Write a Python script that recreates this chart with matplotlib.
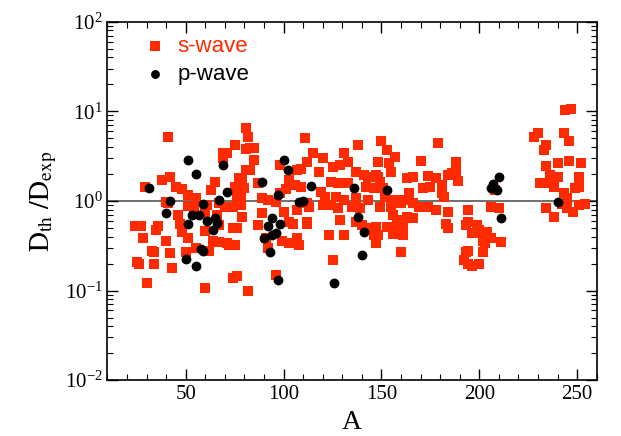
import matplotlib
matplotlib.use("Agg")
import matplotlib.pyplot as plt
from matplotlib.ticker import MultipleLocator, LogLocator

# s-wave resonances: mass number A and D_th / D_exp
s_A = [24, 27, 36, 35, 28, 40, 33, 34, 42, 25, 26, 34, 43, 30, 29, 41, 38, 42, 40, 41,
       45, 48, 51, 55, 51, 54, 46, 47, 48, 51, 60, 64, 67, 71, 72, 74, 79, 55, 62, 50,
       60, 74, 65, 63, 69, 71, 69, 75, 81, 81, 82, 77, 81, 80, 76, 78, 70, 74, 67, 61,
       60, 66, 67, 82,
       83, 85, 85, 83, 79, 75, 78, 77, 87, 111, 109, 107, 112, 103, 106, 109, 101, 98, 89, 92,
       96, 112, 100, 107, 89, 87, 103, 105, 112, 76, 99, 103, 107, 108, 75, 96, 76, 91, 92, 98,
       138, 150, 115, 120, 131, 125, 129, 133, 118, 137, 141, 143, 148, 148, 124, 128, 133, 142, 146, 119,
       121, 127, 131, 137, 143, 113, 120, 124, 128, 135, 139, 112, 129, 137, 140, 144, 146, 147, 123, 131,
       125,
       153, 157, 179, 154, 155, 170, 147, 149, 151, 166, 174, 178, 184, 164, 161, 171, 175, 181, 182, 152,
       156, 149, 155, 160, 166, 169, 174, 178, 184, 156, 158, 163, 166, 183, 184, 153, 157, 161, 147, 148,
       156, 161, 160, 163, 188, 188, 189, 186, 181, 181,
       194, 194, 193, 199, 198, 200, 196, 204, 206, 202, 211, 202, 203, 193, 202, 194, 192, 194, 196, 200,
       206, 210, 208,
       244, 247, 230, 228, 243, 246, 234, 233, 234, 240, 246, 252, 236, 240, 231, 235, 251, 238, 249, 251,
       243, 245, 242, 234, 238, 248, 251, 254, 245]
s_ratio = [0.52, 0.52, 0.52, 0.47, 0.39, 0.36, 0.28, 0.27, 0.26, 0.21, 0.20, 0.20, 0.18, 0.12, 1.42, 5.2, 1.7, 1.85, 0.97, 0.94,
           1.42, 1.35, 1.16, 1.07, 0.87, 0.85, 0.69, 0.56, 0.45, 0.39, 0.46, 0.36, 0.35, 0.34, 0.32, 0.50, 0.66, 0.30, 0.28, 0.27,
           0.106, 0.14, 1.62, 1.32, 3.4, 3.4, 3.0, 4.2, 3.8, 6.5, 5.2, 1.8, 2.2, 1.4, 1.1, 0.90, 0.85, 0.85, 0.94, 0.90,
           0.73, 0.69, 0.54, 0.098,
           3.95, 3.9, 2.85, 2.2, 1.8, 1.42, 1.16, 0.97, 1.58, 5.0, 2.3, 2.2, 2.7, 1.7, 1.5, 1.42, 1.35, 1.22, 1.07, 1.02,
           0.97, 0.94, 0.75, 0.79, 0.73, 0.54, 0.58, 0.56, 0.56, 0.50, 0.36, 0.34, 0.39, 0.32, 0.32, 0.15, 0.145, 0.39, 0.30, 2.5,
           4.2, 4.65, 3.4, 3.0, 3.4, 2.4, 2.5, 2.7, 2.1, 2.1, 1.94, 1.85, 2.7, 1.85, 1.62, 1.58, 1.58, 1.42, 1.38, 1.25,
           1.1, 1.1, 1.02, 1.07, 1.02, 0.85, 0.90, 0.90, 0.83, 0.85, 0.83, 0.58, 0.61, 0.58, 0.54, 0.50, 0.42, 0.34, 0.42, 0.42,
           0.22,
           3.7, 3.1, 4.4, 2.65, 2.1, 2.8, 1.94, 1.62, 1.4, 1.85, 1.9, 1.8, 1.94, 1.22, 1.02, 1.38, 1.42, 1.42, 1.1, 1.1,
           1.02, 0.85, 0.85, 0.94, 0.94, 0.85, 0.85, 0.79, 0.75, 0.69, 0.61, 0.66, 0.64, 0.56, 0.50, 0.51, 0.50, 0.51, 0.51, 0.42,
           0.43, 0.42, 0.27, 1.8, 2.7, 2.1, 1.66, 2.05, 1.5, 1.22,
           0.79, 0.58, 0.54, 0.54, 0.44, 0.47, 0.44, 0.45, 0.39, 0.41, 0.35, 0.36, 0.34, 0.27, 0.27, 0.28, 0.22, 0.20, 0.19, 0.20,
           0.85, 0.83, 1.32,
           10.3, 10.5, 5.7, 5.2, 5.7, 4.65, 4.2, 3.7, 2.45, 2.65, 2.8, 2.65, 1.94, 1.85, 1.58, 1.58, 1.85, 1.42, 1.38, 1.42,
           1.22, 1.07, 0.92, 0.83, 0.66, 0.75, 0.90, 0.92, 0.83]

# p-wave resonances
p_A = [31, 42, 40, 51, 55, 69, 71, 67, 59, 53, 57, 51, 61, 65, 66, 64, 58, 59, 50, 55,
       100, 102, 89, 97, 108, 110, 114, 94, 92, 98, 96, 90, 93, 97, 94,
       136, 138, 141, 140, 126, 153, 210, 207, 206, 209, 211, 240]
p_ratio = [1.41, 1.01, 0.73, 2.85, 1.99, 2.49, 1.26, 1.03, 0.93, 0.69, 0.70, 0.55, 0.60, 0.65, 0.57, 0.47, 0.29, 0.28, 0.225, 0.19,
           2.9, 2.22, 1.61, 1.17, 0.975, 1.0, 1.47, 0.65, 0.52, 0.56, 0.44, 0.39, 0.27, 0.13, 0.42,
           1.41, 0.67, 0.455, 0.25, 0.12, 1.32, 1.85, 1.56, 1.41, 1.32, 0.65, 0.97]

plt.rcParams['font.family'] = ['Liberation Serif', 'DejaVu Serif']
plt.rcParams['mathtext.fontset'] = 'stix'

fig = plt.figure(figsize=(6.21, 4.36), dpi=100)
ax = fig.add_axes([0.173, 0.128, 0.788, 0.822])

ax.axhline(1.0, color='#555555', lw=1.2, zorder=1)
ax.scatter(s_A, s_ratio, marker='s', s=55, color='#ff2a00', linewidths=0, zorder=2, label='s-wave')
ax.scatter(p_A, p_ratio, marker='o', s=50, color='black', linewidths=0, zorder=3, label='p-wave')

ax.set_yscale('log')
ax.set_xlim(10, 260)
ax.set_ylim(1e-2, 1e2)
ax.xaxis.set_major_locator(MultipleLocator(50))
ax.xaxis.set_minor_locator(MultipleLocator(10))
ax.yaxis.set_major_locator(LogLocator(base=10))
ax.yaxis.set_minor_locator(LogLocator(base=10, subs=range(2, 10)))
ax.tick_params(which='both', direction='in', top=True, right=True, labelsize=15)
ax.tick_params(which='major', length=8, width=1)
ax.tick_params(which='minor', length=4, width=0.8)
for sp in ax.spines.values():
    sp.set_linewidth(1.2)

ax.set_xlabel('A', fontsize=20)
ax.set_ylabel(r'$\mathrm{D_{th}\ /D_{exp}}$', fontsize=20)

leg = ax.legend(loc='upper left', bbox_to_anchor=(0.029, 1.016), frameon=False,
                prop={'family': 'Liberation Sans', 'size': 16}, handlelength=1.2,
                handletextpad=0.4, labelspacing=0.3, markerscale=0.9)
leg.get_texts()[0].set_color('#ff2a00')

fig.savefig('out.png', dpi=100)
